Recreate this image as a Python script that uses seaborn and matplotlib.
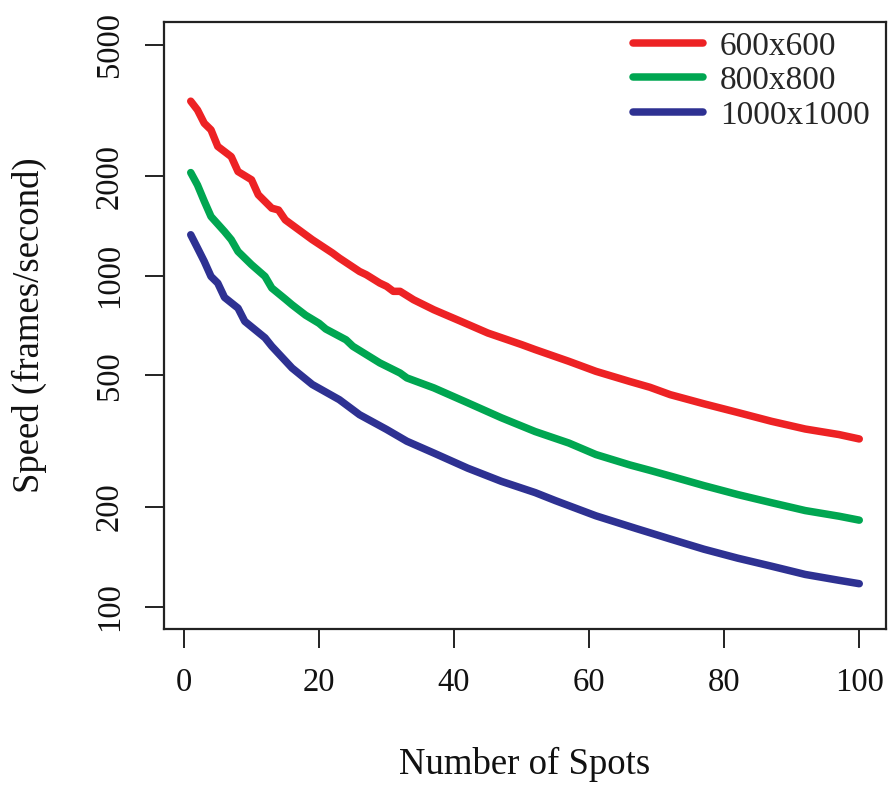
import numpy as np
import pandas as pd
import matplotlib
matplotlib.use("Agg")
import matplotlib.pyplot as plt
from matplotlib.ticker import FixedLocator, FixedFormatter, NullLocator
import seaborn as sns

# Values (log y axis)
labels = ["600x600", "800x800", "1000x1000"]
colors = ["#ED2224", "#00A651", "#2E3192"]

spots_600 = [1, 2, 3, 4, 5, 7, 8, 10, 11, 13, 14, 15, 18, 19, 22, 23, 26, 27, 29, 30,
             31, 32, 34, 37, 41, 45, 50, 52, 57, 61, 66, 69, 72, 77, 82, 87, 92, 97, 100]
speed_600 = [3370, 3170, 2890, 2760, 2460, 2290, 2065, 1950, 1757, 1600, 1580, 1475, 1330,
             1285, 1171, 1131, 1030, 1007, 950, 929, 897, 897, 846, 789, 728, 671, 619, 598,
             551, 514, 479, 460, 437, 410, 386, 363, 344, 331, 321]

spots_800 = [1, 2, 3, 4, 6, 7, 8, 10, 12, 13, 15, 16, 18, 20, 21, 24, 25, 29, 32, 33, 37,
             42, 47, 52, 57, 61, 66, 69, 72, 77, 82, 87, 92, 97, 100]
speed_800 = [2050, 1880, 1680, 1510, 1360, 1285, 1184, 1080, 995, 918, 850, 817, 760, 718,
             690, 640, 612, 545, 508, 491, 458, 413, 372, 338, 312, 288, 268, 258, 248, 232,
             218, 206, 195, 187.5, 182.4]

spots_1000 = [1, 2, 3, 4, 5, 6, 8, 9, 12, 13, 16, 19, 23, 26, 30, 33, 37, 42, 47, 52, 55,
              61, 67, 72, 77, 82, 87, 92, 97, 100]
speed_1000 = [1330, 1213, 1105, 995, 950, 860, 798, 728, 649, 612, 526, 469, 422, 380, 343,
              316, 291, 262, 239, 221, 209, 188, 172, 160, 149, 140, 132.4, 125, 120, 117.2]

y_ticks = [100, 200, 500, 1000, 2000, 5000]
x_ticks = [0, 20, 40, 60, 80, 100]

df = pd.concat([
    pd.DataFrame({"spots": spots_600, "speed": speed_600, "size": labels[0]}),
    pd.DataFrame({"spots": spots_800, "speed": speed_800, "size": labels[1]}),
    pd.DataFrame({"spots": spots_1000, "speed": speed_1000, "size": labels[2]}),
])

sns.set_theme(style="ticks")
plt.rcParams["font.family"] = ["Liberation Serif", "DejaVu Serif"]
plt.rcParams["axes.linewidth"] = 1.6

fig = plt.figure(figsize=(8.9, 7.87), dpi=100)
ax = fig.add_axes([164 / 890, (787 - 629) / 787, (886 - 164) / 890, (629 - 22) / 787])

sns.lineplot(
    data=df,
    x="spots",
    y="speed",
    hue="size",
    hue_order=labels,
    palette=colors,
    linewidth=5.4,
    solid_capstyle="round",
    solid_joinstyle="round",
    ax=ax,
)

ax.set_yscale("log")
ax.set_ylim(10 ** 1.932, 10 ** 3.767)
ax.set_xlim(-2.96, 103.96)

ax.yaxis.set_major_locator(FixedLocator(y_ticks))
ax.yaxis.set_major_formatter(FixedFormatter([str(v) for v in y_ticks]))
ax.yaxis.set_minor_locator(NullLocator())
ax.set_xticks(x_ticks)
ax.set_xticklabels([str(v) for v in x_ticks])

ax.tick_params(axis="both", direction="out", length=14, width=1.4,
               labelsize=23.5, pad=14, colors="#222222", labelcolor="#111111")
for t in ax.get_yticklabels():
    t.set_rotation(90)
    t.set_va("center")

for side in ["top", "right", "left", "bottom"]:
    ax.spines[side].set_visible(True)
    ax.spines[side].set_color("#222222")

ax.set_xlabel("Number of Spots", fontsize=26.5, labelpad=35, color="#111111")
ax.set_ylabel("Speed (frames/second)", fontsize=26.5, labelpad=34, color="#111111")

ax.legend(
    loc="upper left",
    bbox_to_anchor=((633 - 164) / 722, 0.985),
    frameon=False,
    fontsize=24,
    handlelength=2.1,
    handletextpad=0.5,
    labelspacing=0.12,
    borderpad=0,
    borderaxespad=0,
)

fig.savefig("out.png", dpi=100, facecolor="white")
